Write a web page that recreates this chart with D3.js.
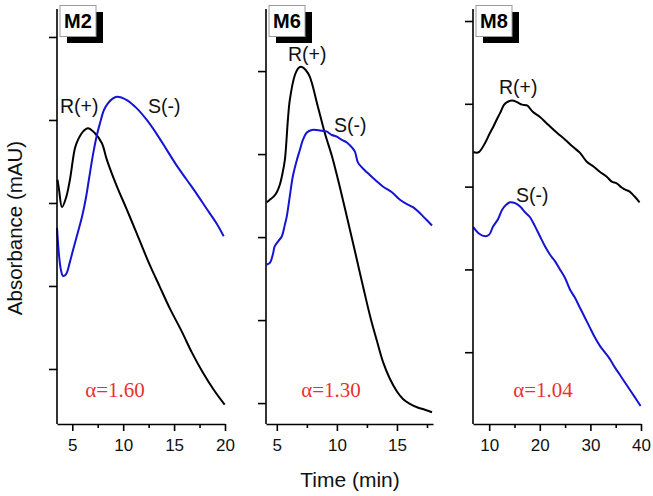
<!DOCTYPE html>
<html lang="en">
<head>
<meta charset="UTF-8">
<title>Chromatograms M2 M6 M8</title>
<script src="https://cdn.jsdelivr.net/npm/d3@7"></script>
<style>
  body { margin: 0; background: #fff; }
  svg { display: block; }
</style>
</head>
<body>
<script>
// --- data (time in min, absorbance in tick units) ---
var m2R_t = [3.55, 3.7, 3.99, 4.38, 4.77, 5.26, 5.56, 6.05, 6.54, 7.23, 7.91, 8.4, 9.38, 10.36, 11.34, 12.62, 13.6, 14.58, 15.76, 16.74, 17.81, 18.89, 19.97];
var m2R_v = [2.28, 2.16, 1.95, 2.06, 2.28, 2.66, 2.76, 2.86, 2.9, 2.84, 2.72, 2.52, 2.2, 1.92, 1.63, 1.25, 0.99, 0.73, 0.45, 0.2, -0.04, -0.25, -0.43];
var m2S_t = [3.5, 3.7, 3.89, 4.09, 4.38, 4.77, 5.07, 5.56, 5.95, 6.34, 6.63, 7.03, 7.42, 7.72, 8.11, 8.5, 8.99, 9.38, 10.36, 11.34, 12.32, 13.3, 14.28, 15.26, 16.24, 17.22, 18.2, 19.19, 19.87];
var m2S_v = [1.7, 1.37, 1.19, 1.12, 1.14, 1.29, 1.43, 1.65, 1.83, 2.06, 2.28, 2.58, 2.82, 2.96, 3.12, 3.2, 3.26, 3.28, 3.24, 3.14, 3.0, 2.83, 2.64, 2.45, 2.28, 2.11, 1.93, 1.75, 1.6];

var m6R_t = [4.17, 4.42, 4.75, 5.0, 5.25, 5.42, 5.67, 5.92, 6.08, 6.5, 6.83, 7.08, 7.42, 7.75, 8.42, 9.0, 9.58, 10.25, 10.92, 11.58, 12.25, 12.83, 13.33, 13.83, 14.42, 15.0, 15.5, 16.08, 16.67, 17.33, 17.92];
var m6R_v = [2.42, 2.45, 2.49, 2.54, 2.63, 2.73, 2.93, 3.41, 3.65, 3.95, 4.04, 4.05, 4.01, 3.93, 3.57, 3.25, 2.98, 2.6, 2.19, 1.78, 1.36, 1.01, 0.75, 0.5, 0.29, 0.14, 0.05, -0.01, -0.05, -0.08, -0.11];
var m6S_t = [4.17, 4.42, 4.67, 4.83, 5.17, 5.42, 5.67, 5.83, 6.08, 6.33, 6.67, 6.92, 7.17, 7.5, 7.92, 8.33, 8.75, 9.17, 9.58, 10.0, 10.42, 10.83, 11.25, 11.5, 11.75, 12.08, 12.5, 13.17, 13.83, 14.58, 15.25, 15.92, 16.33, 16.75, 17.17, 17.58, 17.92];
var m6S_v = [1.67, 1.69, 1.79, 1.89, 1.96, 2.01, 2.15, 2.25, 2.49, 2.73, 2.93, 3.05, 3.17, 3.26, 3.29, 3.29, 3.28, 3.27, 3.23, 3.21, 3.17, 3.14, 3.08, 3.03, 2.9, 2.84, 2.78, 2.69, 2.61, 2.54, 2.45, 2.39, 2.36, 2.31, 2.25, 2.19, 2.14];

var m8R_t = [6.85, 7.44, 8.03, 9.21, 10.0, 10.79, 11.57, 12.17, 12.95, 13.54, 14.53, 15.51, 16.5, 17.48, 18.66, 20.04, 21.61, 23.39, 24.96, 26.54, 27.91, 29.29, 30.67, 31.85, 33.23, 34.21, 35.2, 36.18, 36.97, 37.76, 38.74, 39.72];
var m8R_v = [2.42, 2.41, 2.42, 2.53, 2.63, 2.72, 2.82, 2.89, 2.99, 3.02, 3.04, 3.02, 2.99, 2.98, 2.9, 2.84, 2.75, 2.65, 2.57, 2.48, 2.41, 2.3, 2.24, 2.18, 2.12, 2.06, 2.04, 1.99, 1.96, 1.94, 1.88, 1.81];
var m8S_t = [6.85, 8.03, 9.21, 10.0, 10.79, 11.77, 12.56, 13.35, 14.13, 15.12, 16.1, 17.09, 18.07, 19.06, 20.04, 21.02, 22.0, 22.99, 23.98, 24.96, 25.94, 26.93, 27.91, 28.9, 29.88, 30.87, 31.85, 32.83, 33.82, 34.8, 35.79, 36.77, 37.76, 38.74, 39.92];
var m8S_v = [1.51, 1.43, 1.4, 1.42, 1.52, 1.61, 1.72, 1.78, 1.81, 1.8, 1.76, 1.69, 1.63, 1.52, 1.4, 1.28, 1.18, 1.1, 1.0, 0.9, 0.76, 0.66, 0.54, 0.42, 0.3, 0.18, 0.08, 0.0, -0.08, -0.18, -0.27, -0.36, -0.45, -0.54, -0.65];

var panelNames = ["M2", "M6", "M8"];
var alphaLabels = ["α=1.60", "α=1.30", "α=1.04"];
var xMajorTicks = [[5, 10, 15, 20], [5, 10, 15], [10, 20, 30, 40]];
var xMinorTicks = [[7.5, 12.5, 17.5], [7.5, 12.5, 17.5], [15, 25, 35]];
var yTicks = [0, 1, 2, 3, 4];

// --- layout (pixels) ---
var W = 653, H = 496;
var layout = [
    {left: 57, right: 225, xDom: [3.5, 20], yDom: [-0.663, 4.337], rLab: [60, 113], sLab: [148, 113], alpha: 115},
    {left: 266, right: 433, xDom: [4.1, 18], yDom: [-0.252, 4.748], rLab: [288, 61], sLab: [334, 132], alpha: 331},
    {left: 473, right: 641, xDom: [6.8, 40], yDom: [-0.867, 4.145], rLab: [499, 94], sLab: [516, 202], alpha: 543}
];
var plotTop = 9, plotBottom = 424;

var series = [
    [[m2R_t, m2R_v], [m2S_t, m2S_v]],
    [[m6R_t, m6R_v], [m6S_t, m6S_v]],
    [[m8R_t, m8R_v], [m8S_t, m8S_v]]
];
var colors = ["#000", "#1414d2"];

var svg = d3.select("body").append("svg").attr("width", W).attr("height", H);

layout.forEach(function (p, i) {
    var x = d3.scaleLinear().domain(p.xDom).range([p.left, p.right]);
    var y = d3.scaleLinear().domain(p.yDom).range([plotBottom, plotTop]);
    var g = svg.append("g");

    // curves
    series[i].forEach(function (s, k) {
        var pts = s[0].map(function (t, j) { return [t, s[1][j]]; });
        g.append("path")
            .attr("d", d3.line().x(function (d) { return x(d[0]); }).y(function (d) { return y(d[1]); })
                .curve(d3.curveCatmullRom)(pts))
            .attr("fill", "none")
            .attr("stroke", colors[k])
            .attr("stroke-width", 2);
    });

    // y axis, no labels
    var ya = g.append("g").attr("transform", "translate(" + p.left + ",0)")
        .call(d3.axisLeft(y).tickValues(yTicks).tickSize(8).tickSizeOuter(0).tickFormat(""));
    ya.select(".domain").attr("d", "M0," + plotTop + "V" + plotBottom);
    // x axis, major + minor
    var xa = g.append("g").attr("transform", "translate(0," + plotBottom + ")")
        .call(d3.axisBottom(x).tickValues(xMajorTicks[i]).tickSize(7).tickSizeOuter(0).tickPadding(8));
    g.append("g").attr("transform", "translate(0," + plotBottom + ")")
        .call(d3.axisBottom(x).tickValues(xMinorTicks[i]).tickSize(4).tickSizeOuter(0).tickFormat(""))
        .select(".domain").remove();
    g.selectAll(".domain, .tick line").attr("stroke", "#000").attr("stroke-width", 1.6);
    xa.selectAll("text").attr("font-family", "Liberation Sans, Arial, sans-serif")
        .attr("font-size", 17).attr("fill", "#111");

    // panel tag with shadow
    g.append("rect").attr("x", p.left + 10).attr("y", 12).attr("width", 36).attr("height", 31).attr("fill", "#000");
    g.append("rect").attr("x", p.left + 3).attr("y", 5.5).attr("width", 36).attr("height", 31)
        .attr("fill", "#fff").attr("stroke", "#9a9a9a").attr("stroke-width", 1);
    g.append("text").attr("x", p.left + 21).attr("y", 28).attr("text-anchor", "middle")
        .attr("font-family", "Liberation Sans, Arial, sans-serif").attr("font-weight", "bold")
        .attr("font-size", 20).text(panelNames[i]);

    // peak labels
    g.append("text").attr("x", p.rLab[0]).attr("y", p.rLab[1])
        .attr("font-family", "Liberation Sans, Arial, sans-serif").attr("font-size", 19.5).attr("fill", "#111")
        .text("R(+)");
    g.append("text").attr("x", p.sLab[0]).attr("y", p.sLab[1])
        .attr("font-family", "Liberation Sans, Arial, sans-serif").attr("font-size", 19.5).attr("fill", "#111")
        .text("S(-)");

    // selectivity
    g.append("text").attr("x", p.alpha).attr("y", 397).attr("text-anchor", "middle")
        .attr("font-family", "Liberation Serif, Times New Roman, serif").attr("font-size", 21)
        .attr("fill", "#e8312f").text(alphaLabels[i]);
});

// axis titles
svg.append("text").attr("x", 350).attr("y", 487).attr("text-anchor", "middle")
    .attr("font-family", "Liberation Sans, Arial, sans-serif").attr("font-size", 21).attr("fill", "#111")
    .text("Time (min)");
svg.append("text").attr("transform", "translate(22,228) rotate(-90)").attr("text-anchor", "middle")
    .attr("font-family", "Liberation Sans, Arial, sans-serif").attr("font-size", 20.5).attr("fill", "#111")
    .text("Absorbance (mAU)");
</script>
</body>
</html>
